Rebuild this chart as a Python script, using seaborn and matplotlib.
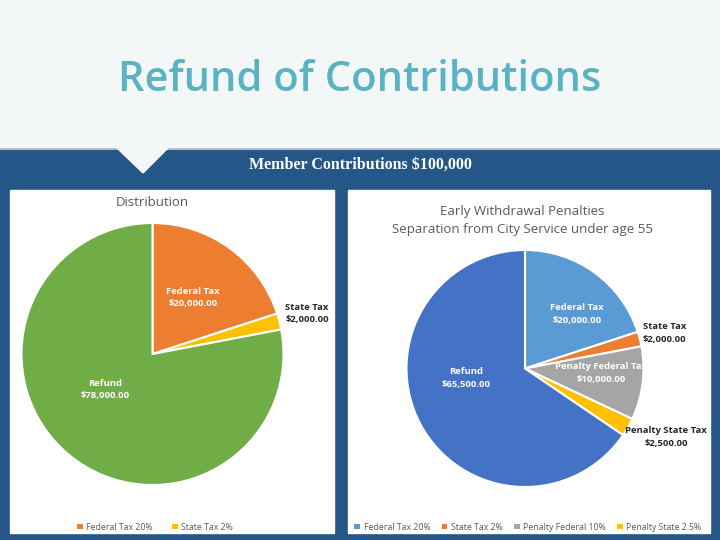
import numpy as np
import matplotlib
matplotlib.use('Agg')
import matplotlib.pyplot as plt
import seaborn as sns
from matplotlib.patches import Rectangle, Polygon, Patch

sns.set_theme(style='white')
plt.rcParams['font.family'] = ['Open Sans', 'DejaVu Sans']

# data
left_labels = ['Federal Tax', 'State Tax', 'Refund']
left_values = [20000, 2000, 78000]
left_legend = ['Federal Tax 20%', 'State Tax 2%']

right_labels = ['Federal Tax', 'State Tax', 'Penalty Federal Tax', 'Penalty State Tax', 'Refund']
right_values = [20000, 2000, 10000, 2500, 65500]
right_legend = ['Federal Tax 20%', 'State Tax 2%', 'Penalty Federal 10%', 'Penalty State 2.5%']

left_colors = ['#ED7D31', '#FFC000', '#70AD47']
right_colors = ['#5B9BD5', '#ED7D31', '#A5A5A5', '#FFC000', '#4472C4']

# label layout (pie radius units) and style
left_pos = [(0.31, 0.43), (1.18, 0.31), (-0.36, -0.27)]
left_inside = [True, False, True]
right_pos = [(0.44, 0.46), (1.18, 0.30), (0.64, -0.04), (1.19, -0.58), (-0.50, -0.08)]
right_inside = [True, False, True, False, True]

W, H = 720, 540
fig = plt.figure(figsize=(7.2, 5.4), dpi=100)

bg = fig.add_axes([0, 0, 1, 1])
bg.set_xlim(0, W)
bg.set_ylim(H, 0)
bg.axis('off')
bg.add_patch(Rectangle((0, 0), W, 150, color='#f4f7f8', zorder=0))
bg.add_patch(Rectangle((0, 150), W, H - 150, color='#245788', zorder=0))
bg.plot([0, W], [149, 149], color='#9fb9c8', lw=1.2, zorder=1)
bg.add_patch(Polygon([(117, 148), (168, 148), (143, 173)], closed=True,
                     color='#f4f7f8', zorder=2))
bg.add_patch(Rectangle((10, 190), 324, 343, color='white', zorder=1))
bg.add_patch(Rectangle((348, 190), 362, 343, color='white', zorder=1))

bg.text(360, 80, 'Refund of Contributions', ha='center', va='center',
        fontsize=30, fontweight='semibold', color='#5ab3c3')
bg.text(360, 165, 'Member Contributions $100,000', ha='center', va='center',
        fontsize=11.5, fontweight='bold', color='white', family='Liberation Serif')
bg.text(152, 203, 'Distribution', ha='center', va='center',
        fontsize=9.5, color='#595959')
bg.text(522, 211, 'Early Withdrawal Penalties', ha='center', va='center',
        fontsize=9.5, color='#595959')
bg.text(522, 229, 'Separation from City Service under age 55', ha='center', va='center',
        fontsize=9.5, color='#595959')


def pie_axes(cx, cy, r):
    return fig.add_axes([(cx - r) / W, (H - cy - r) / H, 2 * r / W, 2 * r / H])


def draw_pie(ax, values, labels, colors, pos, inside):
    wedges, _ = ax.pie(values, colors=colors, startangle=90, counterclock=False,
                       wedgeprops=dict(edgecolor='white', linewidth=1.5))
    ax.set_xlim(-1, 1)
    ax.set_ylim(-1, 1)
    ax.axis('off')
    for lab, v, (x, y), ins in zip(labels, values, pos, inside):
        c = 'white' if ins else '#262626'
        ax.text(x, y, f'{lab}\n${v:,.2f}', ha='center', va='center',
                fontsize=6.8, fontweight='bold', color=c, linespacing=1.5)
    return [Patch(facecolor=w.get_facecolor(), edgecolor='none') for w in wedges]


axl = pie_axes(152.5, 354, 131)
hl = draw_pie(axl, left_values, left_labels, left_colors, left_pos, left_inside)
axr = pie_axes(525, 368.5, 118.5)
hr = draw_pie(axr, right_values, right_labels, right_colors, right_pos, right_inside)

leg_kw = dict(loc='center', frameon=False, handlelength=0.65, handleheight=0.65,
              handletextpad=0.4, fontsize=6.3, labelcolor='#595959',
              bbox_transform=bg.transData)
fig.legend(handles=hl[:2], labels=left_legend, ncol=2, columnspacing=2.2,
           bbox_to_anchor=(155, 527), **leg_kw)
fig.legend(handles=hr[:4], labels=right_legend, ncol=4, columnspacing=1.3,
           bbox_to_anchor=(528, 527), **leg_kw)

fig.savefig('out.png', dpi=100)
